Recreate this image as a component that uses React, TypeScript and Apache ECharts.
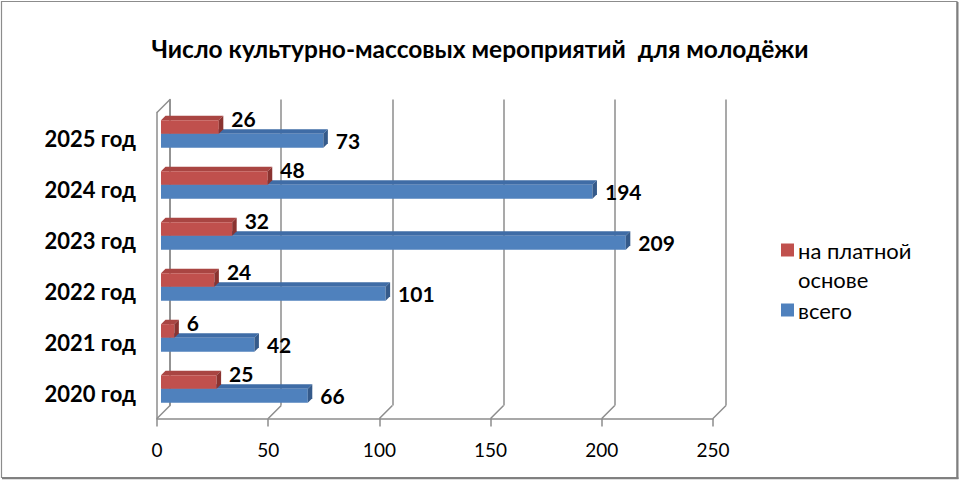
import React, { useEffect, useRef } from "react";
import * as echarts from "echarts";

const categories = ["2020 год", "2021 год", "2022 год", "2023 год", "2024 год", "2025 год"];
const paidValues = [25, 6, 24, 32, 48, 26];
const totalValues = [66, 42, 101, 209, 194, 73];
const xTickValues = [0, 50, 100, 150, 200, 250];
const seriesNames = ["на платной основе", "всего"];
const legendLines = [["на платной", "основе"], ["всего"]];
const titleText = "Число культурно-массовых мероприятий  для молодёжи";

const FONT = "Lato, 'Noto Sans', sans-serif";
const GRID_COLOR = "#8c8c8c";

const RED = { front: "#c0504d", top: "#a94542", side: "#8a3330" };
const BLUE = { front: "#4f81bd", top: "#3f6ca6", side: "#355a8a" };

function barRenderer(kind: "paid" | "total") {
  const col = kind === "paid" ? RED : BLUE;
  return (params: any, api: any) => {
    const v = api.value(0);
    const cat = api.value(1);
    const p0 = api.coord([0, cat]);
    const p1 = api.coord([v, cat]);
    const band = api.size([0, 1])[1];
    const c = p0[1];
    const d = 4.5;
    const x0 = p0[0] + 4;
    const x1 = p1[0] + 4;
    let top: number, bottom: number, ly: number;
    if (kind === "paid") {
      top = c - 0.35 * band;
      bottom = c - 0.085 * band;
      ly = c - 0.39 * band;
    } else {
      top = c - 0.085 * band;
      bottom = c + 0.19 * band;
      ly = c + 0.045 * band;
    }
    return {
      type: "group",
      children: [
        {
          type: "polygon",
          shape: { points: [[x0, top], [x1, top], [x1 + d, top - d], [x0 + d, top - d]] },
          style: { fill: col.top },
        },
        {
          type: "rect",
          shape: { x: x0, y: top, width: x1 - x0, height: bottom - top },
          style: { fill: col.front },
        },
        {
          type: "polygon",
          shape: { points: [[x1, top], [x1 + d, top - d], [x1 + d, bottom - d], [x1, bottom]] },
          style: { fill: col.side },
        },
        {
          type: "text",
          style: {
            text: String(v),
            x: x1 + d + 8,
            y: ly,
            verticalAlign: "middle",
            align: "left",
            font: `bold 21px ${FONT}`,
            fill: "#000",
          },
        },
      ],
    };
  };
}

function floorRenderer(params: any, api: any) {
  const v = api.value(0);
  const cs = params.coordSys;
  const bottom = cs.y + cs.height;
  const px = api.coord([v, 0])[0];
  const children: any[] = [
    {
      type: "line",
      shape: { x1: px, y1: bottom, x2: px + 13, y2: bottom - 13 },
      style: { stroke: GRID_COLOR, lineWidth: 1.5 },
    },
  ];
  if (params.dataIndex === 0) {
    children.push({
      type: "line",
      shape: { x1: px, y1: cs.y, x2: px + 13, y2: cs.y - 13 },
      style: { stroke: GRID_COLOR, lineWidth: 1.5 },
    });
  }
  return { type: "group", children };
}

export default function App() {
  const ref = useRef<HTMLDivElement>(null);
  useEffect(() => {
    if (!ref.current) return;
    const chart = echarts.init(ref.current, undefined, { renderer: "svg" });
    const legendGraphics: any[] = [];
    const legendColors = [RED.front, BLUE.front];
    const legendTops = [250, 310];
    legendLines.forEach((lines, i) => {
      legendGraphics.push({
        type: "rect",
        shape: { x: 781, y: legendTops[i] - 6.5, width: 13, height: 13 },
        style: { fill: legendColors[i] },
      });
      lines.forEach((ln, j) => {
        legendGraphics.push({
          type: "text",
          style: {
            text: ln,
            x: 798,
            y: legendTops[i] + j * 29.5,
            verticalAlign: "middle",
            font: `22px ${FONT}`,
            fill: "#000",
          },
        });
      });
    });

    chart.setOption({
      animation: false,
      backgroundColor: "#fff",
      title: {
        text: titleText,
        left: "center",
        top: 31,
        textStyle: { fontFamily: FONT, fontWeight: "bold", fontSize: 24.5, color: "#000" },
      },
      graphic: [
        {
          type: "rect",
          shape: { x: 1.5, y: 1.5, width: 955.5, height: 476 },
          style: { fill: "none", stroke: "#8c8c8c", lineWidth: 1.2 },
          z: 100,
        },
        {
          type: "line",
          shape: { x1: 957.5, y1: 2, x2: 957.5, y2: 479 },
          style: { stroke: "#7f7f7f", lineWidth: 2 },
          z: 100,
        },
        {
          type: "line",
          shape: { x1: 2, y1: 478.2, x2: 958.5, y2: 478.2 },
          style: { stroke: "#7f7f7f", lineWidth: 2 },
          z: 100,
        },
        ...legendGraphics,
      ],
      grid: [
        { left: 157, top: 112.5, width: 556, height: 306 },
        { left: 170, top: 99.5, width: 556, height: 306 },
      ],
      xAxis: [
        {
          gridIndex: 0,
          type: "value",
          min: 0,
          max: 250,
          interval: 50,
          axisLine: { show: true, lineStyle: { color: GRID_COLOR, width: 1.5 } },
          axisTick: { show: true, length: 8, lineStyle: { color: GRID_COLOR, width: 1.5 } },
          axisLabel: { fontFamily: FONT, fontSize: 19, color: "#000", margin: 21 },
          splitLine: { show: false },
        },
        {
          gridIndex: 1,
          type: "value",
          min: 0,
          max: 250,
          interval: 50,
          axisLine: { show: false },
          axisTick: { show: false },
          axisLabel: { show: false },
          splitLine: { show: true, lineStyle: { color: GRID_COLOR, width: 1.5 } },
        },
      ],
      yAxis: [
        {
          gridIndex: 0,
          type: "category",
          data: categories,
          axisLine: { show: true, lineStyle: { color: GRID_COLOR, width: 1.5 } },
          axisTick: { show: false },
          axisLabel: { fontFamily: FONT, fontSize: 22, fontWeight: "bold", color: "#000", margin: 21 },
        },
        {
          gridIndex: 1,
          type: "category",
          data: categories,
          axisLine: { show: true, lineStyle: { color: GRID_COLOR, width: 1.5 } },
          axisTick: { show: false },
          axisLabel: { show: false },
        },
      ],
      series: [
        {
          type: "custom",
          name: "floor",
          xAxisIndex: 0,
          yAxisIndex: 0,
          data: xTickValues.map((v) => [v, 0]),
          encode: { x: 0, y: 1 },
          renderItem: floorRenderer,
          silent: true,
        },
        {
          type: "custom",
          name: seriesNames[1],
          xAxisIndex: 0,
          yAxisIndex: 0,
          data: totalValues.map((v, i) => [v, i]),
          encode: { x: 0, y: 1 },
          renderItem: barRenderer("total"),
        },
        {
          type: "custom",
          name: seriesNames[0],
          xAxisIndex: 0,
          yAxisIndex: 0,
          data: paidValues.map((v, i) => [v, i]),
          encode: { x: 0, y: 1 },
          renderItem: barRenderer("paid"),
        },
      ],
    });
    return () => chart.dispose();
  }, []);
  return (
    <div
      ref={ref}
      style={{ position: "absolute", left: 0, top: 0, width: 960, height: 480 }}
    />
  );
}
